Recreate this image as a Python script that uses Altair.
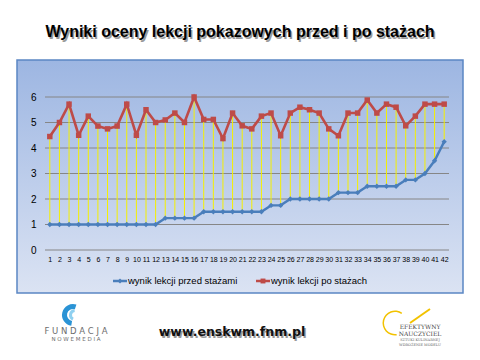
import altair as alt
import pandas as pd

# ---- data ----
lekcja = list(range(1, 43))
przed = [1.0] * 12 + [1.25] * 4 + [1.5] * 7 + [1.75] * 2 + [2.0] * 5 + [2.25] * 3 + [2.5] * 4 + [2.75] * 2 + [3.0, 3.5, 4.25]
po = [4.45, 5.0, 5.72, 4.5, 5.25, 4.86, 4.75, 4.86, 5.72, 4.5,
      5.5, 5.0, 5.1, 5.37, 5.0, 6.0, 5.12, 5.12, 4.37, 5.37,
      4.87, 4.75, 5.25, 5.37, 4.48, 5.37, 5.6, 5.5, 5.37, 4.75,
      4.48, 5.37, 5.37, 5.88, 5.37, 5.72, 5.6, 4.87, 5.25, 5.72,
      5.72, 5.72]
y_ticks = [0, 1, 2, 3, 4, 5, 6]
title_text = "Wyniki oceny lekcji  pokazowych przed i po stażach"
legend_labels = ["wynik lekcji przed stażami", "wynik lekcji po stażach"]
url_text = "www.enskwm.fnm.pl"

BLUE = "#4a7ebb"
RED = "#be4b48"
FONT = "Liberation Sans"

df = pd.DataFrame({"n": lekcja, "przed": przed, "po": po})
grid_df = pd.DataFrame({"v": y_ticks})
one = pd.DataFrame({"a": [0]})

xenc = alt.X("n:Q", scale=alt.Scale(domain=[0.5, 42.5], nice=False, zero=False),
             axis=alt.Axis(values=lekcja, format="d", labelFontSize=7, labelFont=FONT,
                           ticks=False, domain=False, grid=False, title=None,
                           labelPadding=5, labelOverlap=False, labelFlush=False,
                           labelColor="#000000", zindex=1))
yscale = alt.Scale(domain=[0, 6], nice=False, zero=True)
yaxis = alt.Axis(values=y_ticks, grid=False, domain=False, ticks=False, labelFontSize=10,
                 labelFont=FONT, labelPadding=9, title=None, labelColor="#000000", zindex=1)

# background box with gradient
box = alt.Chart(one).mark_rect(
    fill=alt.LinearGradient(gradient="linear", x1=0, x2=0, y1=0, y2=1,
                            stops=[alt.GradientStop(color="#9db6e2", offset=0),
                                   alt.GradientStop(color="#dbe3f3", offset=1)]),
    stroke="#5b86c4", strokeWidth=1.5
).encode(x=alt.value(-28), x2=alt.value(418), y=alt.value(-37), y2=alt.value(196))

grid = alt.Chart(grid_df).mark_rule(color="#868686", strokeWidth=1.2).encode(
    y=alt.Y("v:Q", scale=yscale, axis=yaxis))

hilo = alt.Chart(df).mark_rule(color="#f5f000", strokeWidth=1).encode(
    x=xenc, y=alt.Y("przed:Q", scale=yscale, axis=yaxis), y2="po:Q")

line_b = alt.Chart(df).mark_line(color=BLUE, strokeWidth=2.4).encode(
    x=xenc, y=alt.Y("przed:Q", scale=yscale, axis=yaxis))
pts_b = alt.Chart(df).mark_point(shape="diamond", filled=True, color=BLUE, size=28, opacity=1).encode(
    x=xenc, y=alt.Y("przed:Q", scale=yscale, axis=yaxis))
line_r = alt.Chart(df).mark_line(color=RED, strokeWidth=2.6).encode(
    x=xenc, y=alt.Y("po:Q", scale=yscale, axis=yaxis))
pts_r = alt.Chart(df).mark_point(shape="square", filled=True, color=RED, size=30, opacity=1).encode(
    x=xenc, y=alt.Y("po:Q", scale=yscale, axis=yaxis))

def txt(s, x, y, size, color="#000000", weight="normal", font=FONT, align="center"):
    kw = dict(text=s, fontSize=size, color=color, fontWeight=weight, font=font,
              align=align, baseline="middle")
    return alt.Chart(one).mark_text(**kw).encode(x=alt.value(x), y=alt.value(y))

# legend
leg = [
    alt.Chart(one).mark_rule(color=BLUE, strokeWidth=2.5).encode(x=alt.value(68), x2=alt.value(82), y=alt.value(184)),
    alt.Chart(one).mark_point(shape="diamond", filled=True, color=BLUE, size=24, opacity=1).encode(x=alt.value(75), y=alt.value(184)),
    txt(legend_labels[0], 83, 184, 9.5, align="left"),
    alt.Chart(one).mark_rule(color=RED, strokeWidth=2.5).encode(x=alt.value(211), x2=alt.value(225), y=alt.value(184)),
    alt.Chart(one).mark_point(shape="square", filled=True, color=RED, size=24, opacity=1).encode(x=alt.value(218), y=alt.value(184)),
    txt(legend_labels[1], 226, 184, 9.5, align="left"),
]

# title with shadow
title = [
    txt(title_text, 196.5, -63.5, 16, color="#9a9a9a", weight="bold"),
    txt(title_text, 195, -65, 16, color="#000000", weight="bold"),
]

# footer
footer = [
    txt(url_text, 188.5, 236.5, 12.5, color="#9a9a9a", weight="bold", font="DejaVu Sans"),
    txt(url_text, 187, 235, 12.5, color="#111111", weight="bold", font="DejaVu Sans"),
    alt.Chart(one).mark_arc(color="#2a93d5", innerRadius=6, outerRadius=11).encode(
        x=alt.value(28), y=alt.value(218), theta=alt.value(3.3), theta2=alt.value(6.6)),
    alt.Chart(one).mark_arc(color="#8fd0f0", innerRadius=3, outerRadius=6).encode(
        x=alt.value(30), y=alt.value(218), theta=alt.value(3.6), theta2=alt.value(6.2)),
    txt("F U N D A C J A", 31, 234, 8.5, color="#6d6d6d", font="DejaVu Sans"),
    txt("N O W E   M E D I A", 31, 241.5, 5.5, color="#6d6d6d", font="DejaVu Sans"),
    alt.Chart(one).mark_arc(color="#f2c200", innerRadius=11, outerRadius=12.5).encode(
        x=alt.value(350), y=alt.value(226), theta=alt.value(3.0), theta2=alt.value(6.9)),
    alt.Chart(one).mark_rule(color="#f2c200", strokeWidth=2).encode(
        x=alt.value(365), x2=alt.value(385), y=alt.value(226), y2=alt.value(212)),
    txt("EFEKTYWNY", 375, 230, 6, color="#444444", font="DejaVu Serif"),
    txt("NAUCZYCIEL", 375, 237, 6, color="#444444", font="DejaVu Serif"),
    txt("SZTUKI KULINARNEJ", 375, 243, 3.5, color="#666666", font="DejaVu Serif"),
    txt("WDROŻENIE MODELU", 375, 248, 3.5, color="#666666", font="DejaVu Serif"),
]

chart = alt.layer(box, grid, hilo, line_b, pts_b, line_r, pts_r, *leg, *title, *footer).properties(
    width=404, height=153,
    autosize=alt.AutoSizeParams(type="none"),
    padding={"left": 37, "top": 89, "right": 23, "bottom": 102},
    background="#ffffff",
).configure_view(stroke=None)

chart.save("out.html", embed_options={"renderer": "svg", "actions": False})
